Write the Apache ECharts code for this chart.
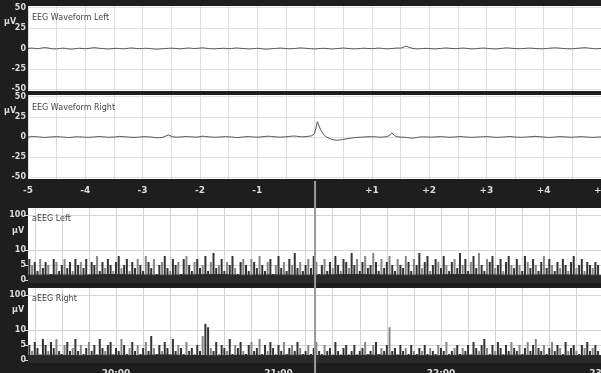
<!DOCTYPE html>
<html><head><meta charset="utf-8">
<script src="https://cdn.jsdelivr.net/npm/echarts@6/dist/echarts.min.js"></script>
<style>html,body{margin:0;padding:0;background:#1e1e1e}#c{width:601px;height:373px}</style>
</head><body><div id="c"></div>
<script>
// ---------- DATA ----------
// EEG raw waveform (µV), sampled every 0.05 s from -5 s to +5 s
const eegLeft = [
 0,0.5,0.3,-0.2,0,0.8,1,0.6,0,-0.5,-0.3,0,0.4,0.2,-0.4,-0.8,-0.5,0,0.3,0,
 -0.3,0,0.5,1,0.7,0.2,0,-0.4,-0.6,-0.3,0,0.2,0,-0.3,-0.2,0.3,0.6,0.4,0,-0.2,
 0,0.3,0.1,-0.3,-0.6,-0.8,-0.6,-0.2,0,0.2,0.4,0.2,0,-0.4,-0.2,0.3,0.6,0.3,0,0.2,
 0.5,0.8,0.4,0,-0.3,-0.5,-0.2,0,0.3,0.1,-0.2,0,0.4,0.6,0.3,0,-0.2,-0.6,-0.4,0,
 0.2,0,-0.5,-0.8,-0.6,-0.3,0,0.2,0.5,0.3,0,-0.3,-0.2,0,0.4,0.7,0.5,0.2,0,-0.3,
 -0.5,-0.3,0,0.3,0.1,-0.2,-0.6,-0.4,0,0.2,0.6,0.3,0,-0.3,-0.5,-0.2,0,0.4,0.2,0,
 -0.2,0,0.5,0.3,0,-0.4,-0.3,0,0.3,0.6,0.4,1.5,3,1.5,0.3,-0.3,-0.5,-0.2,0,0.2,
 0,-0.3,-0.5,-0.2,0,0.4,0.6,0.3,0,-0.2,0,0.3,0.5,0.2,-0.2,-0.5,-0.3,0,0.3,0.5,
 0.2,0,-0.3,-0.6,-0.3,0,0.4,0.8,0.5,0.2,0,-0.3,-0.2,0,0.3,0.5,0.3,0,-0.2,-0.4,
 -0.2,0,0.3,0.6,0.8,0.6,0.3,0,-0.2,-0.4,-0.3,0,0.3,0.6,1,0.8,0.4,0,-0.3,-0.2,
 0
];
const eegRight = [
 0,0.3,0.6,0.3,0,-0.3,-0.5,-0.2,0,0.3,0.5,0.2,0,-0.3,-0.6,-0.4,0,0.3,0.2,0,
 -0.3,-0.5,-0.2,0,0.4,0.6,0.3,0,-0.3,-0.2,0,0.3,0.8,0.5,0.2,0,-0.3,-0.5,-0.3,0,
 0.3,0.5,0.2,0,-0.5,-1,-0.8,-0.4,1,2.5,0.8,0,-0.2,0,0.3,0.6,0.4,0.2,0,-0.2,
 0.5,1,0.6,0.2,0,-0.3,-0.2,0,0.3,0.5,0.3,0,-0.4,-0.6,-0.4,0,0.3,0.5,0.3,0,
 -0.2,0,0.4,0.8,1,0.6,0.3,0,-0.2,0,0.3,0.6,1,1.2,0.8,0.4,0.2,0.5,1,1.5,
 4,19,10,4,0.5,-1.5,-2.8,-3.8,-4,-3.6,-3,-2.4,-1.8,-1.2,-0.8,-0.5,-0.3,0,0.2,0.3,
 0.4,0.3,0,-0.2,0,0.3,1.5,5,1.5,0.3,0,-0.3,-0.5,-1,-1.5,-1,-0.4,0,0.2,0,
 0,-0.2,0,0.3,0.5,0.3,0,-0.3,-0.2,0,0.4,0.6,0.3,0,-0.3,-0.5,-0.2,0,0.2,0.3,
 0.5,0.3,0,-0.3,-0.5,-0.2,0,0.3,0.6,0.4,0,-0.2,-0.4,-0.2,0,0.3,0.5,0.8,0.5,0.2,
 0,-0.3,-0.5,-0.3,0,0.3,0.5,0.3,0,-0.2,-0.3,0,0.2,0.4,0.2,0,-0.3,-0.5,-0.3,0,
 0
];
// aEEG upper margin per minute (µV), from 19:28 onward
const aeegLeftMax = [
 7,5,6,3,7,4,6,5,2,7,6,3,5,7,4,6,3,7,5,6,
 4,7,2,6,5,8,3,6,4,7,5,3,6,8,4,5,7,3,6,4,
 7,5,3,8,6,4,7,2,5,6,8,4,3,7,5,6,2,7,8,5,
 3,6,7,4,5,8,3,6,9,4,5,7,3,6,5,8,4,2,6,7,
 5,3,7,6,4,8,5,3,6,7,2,5,8,4,6,3,7,5,9,4,
 6,3,5,7,4,8,6,2,5,7,3,6,4,8,5,3,7,6,4,9,
 5,7,3,6,8,4,5,9,6,3,7,4,6,8,5,3,7,5,4,8,
 6,3,7,5,9,4,6,8,3,5,7,6,4,8,5,3,6,7,4,9,
 5,7,3,6,8,4,9,5,3,7,6,8,4,5,7,3,6,8,5,4,
 7,5,3,8,6,4,7,5,3,6,8,4,7,5,3,6,4,7,5,3,
 6,8,4,5,7,3,6,5,4,6,5
];
const aeegRightMax = [
 5,3,6,4,2,7,5,3,6,4,7,3,2,5,6,3,4,7,3,5,
 2,4,6,3,5,2,7,4,3,5,6,2,4,3,7,5,2,4,6,3,
 5,2,4,6,3,8,4,2,5,3,6,4,2,7,3,5,4,2,6,3,
 4,2,5,3,8,15,12,4,3,6,2,5,4,3,7,2,5,4,6,3,
 2,5,6,3,4,7,2,5,3,6,4,2,5,3,6,2,4,5,3,6,
 4,2,3,5,2,4,6,3,2,5,3,4,2,6,3,2,4,5,2,3,
 5,2,3,4,6,2,3,5,6,2,4,3,5,12,3,4,2,5,3,4,
 2,5,3,2,4,3,5,2,4,3,2,5,4,3,6,2,3,4,5,2,
 4,3,5,2,6,4,3,5,7,4,2,5,3,6,4,2,5,3,6,4,
 3,5,2,4,6,3,5,7,4,3,5,2,4,6,3,5,4,2,6,3,
 4,5,3,2,5,4,6,3,4,5,3
];
// aEEG lower margin, one value per 10 minutes
const aeegLeftLow  = [1.6,1.7,1.6,1.8,1.7,1.6,1.7,1.8,1.6,1.7,1.6,1.7,1.8,1.7,1.6,1.7,1.8,1.7,1.6,1.7,1.7,1.6,1.6];
const aeegRightLow = [1.5,1.6,1.4,1.6,1.5,1.7,1.5,1.4,1.6,1.5,1.6,1.4,1.5,1.6,1.5,1.4,1.6,1.5,1.6,1.5,1.4,1.5,1.5];
const eegTickLabels = ['-5','-4','-3','-2','-1','+1','+2','+3','+4','+5'];
const hourLabels = ['20:00','21:00','22:00','23:00'];
const aeegTickVals = [0,5,10,100];
const eegTickVals = [-50,-25,0,25,50];
const cursorTime = 1273.5; // 21:13.5 (minutes after midnight)

// ---------- BUILD ----------
const FONT = 'DejaVu Sans';
const T = v => v <= 10 ? v : 10 + 11.7 * Math.log10(v / 10); // semi-log aEEG scale
const t0 = 1167.5, t1 = 1380;
const eegTimes = eegLeft.map((_, i) => -5 + i * 0.05);
const barTimes = aeegLeftMax.map((_, i) => 1168 + i);
const lowTimes = aeegLeftLow.map((_, i) => Math.min(t1, t0 + i * 10));
const tenMin = []; for (let m = 1170; m <= 1380; m += 10) tenMin.push(m);
const hourVals = [1200, 1260, 1320, 1380];
const lab = { color: '#dcdcdc', fontSize: 8, fontFamily: FONT, fontWeight: 'bold' };

function eegX(idx, show) {
  return { type: 'value', gridIndex: idx, min: -5, max: 5, interval: 0.5,
    axisLine: { show: false },
    axisTick: { show: show, length: 3, lineStyle: { color: '#cfcfcf' } },
    axisLabel: { show: show, ...lab, fontSize: 9, margin: 7, showMinLabel: true, showMaxLabel: true, hideOverlap: false,
      formatter: v => { const r = Math.round(v); if (Math.abs(v - r) > 1e-6 || r === 0) return '';
        return eegTickLabels.find(s => Number(s) === r) || ''; } },
    splitLine: { show: true, lineStyle: { color: '#dddddd', width: 1 } } };
}
function eegY(idx) {
  return { type: 'value', gridIndex: idx, min: -52, max: 52,
    axisLine: { show: false },
    axisTick: { show: true, length: 3, customValues: eegTickVals, lineStyle: { color: '#dcdcdc' } },
    axisLabel: { ...lab, margin: 2, customValues: eegTickVals },
    splitLine: { show: true, lineStyle: { color: '#e0e0e0' } } };
}
function aX(idx, show) {
  return { type: 'value', gridIndex: idx, min: t0, max: t1,
    axisLine: { show: false },
    axisTick: { show: show, customValues: tenMin, length: 3, lineStyle: { color: '#cfcfcf' } },
    axisLabel: { show: show, ...lab, fontSize: 9, margin: 6, customValues: hourVals, hideOverlap: false,
      formatter: v => hourLabels[hourVals.indexOf(v)] || '' },
    splitLine: { show: true, lineStyle: { color: '#d2d2d2' } } };
}
function aY(idx) {
  const cv = aeegTickVals.map(T);
  return { type: 'value', gridIndex: idx, min: -1, max: 24,
    axisLine: { show: false },
    axisTick: { show: true, length: 3, customValues: cv, lineStyle: { color: '#dcdcdc' } },
    axisLabel: { ...lab, margin: 2, customValues: cv,
      formatter: v => String(aeegTickVals[cv.findIndex(c => Math.abs(c - v) < 1e-6)]) },
    splitLine: { show: true, lineStyle: { color: '#d6d6d6' } } };
}
const gridBase = { left: 28, show: true, backgroundColor: '#ffffff', borderWidth: 0, containLabel: false, outerBoundsMode: 'none' };
function barSeries(ai, arr) {
  return { type: 'bar', xAxisIndex: ai, yAxisIndex: ai, barWidth: 2, animation: false,
    data: arr.map((v, i) => [barTimes[i], T(v)]),
    itemStyle: { color: p => (p.dataIndex % 3 === 1 ? '#858585' : '#333333') } };
}
function lowSeries(ai, arr) {
  return { type: 'line', xAxisIndex: ai, yAxisIndex: ai, symbol: 'none', animation: false, z: 3,
    data: arr.map((v, i) => [lowTimes[i], T(v)]),
    lineStyle: { color: '#2a2a2a', width: 1 },
    areaStyle: { color: '#2a2a2a', origin: 'start', opacity: 1 } };
}
const chart = echarts.init(document.getElementById('c'), null, { renderer: 'canvas' });
chart.setOption({
  backgroundColor: '#1e1e1e',
  animation: false,
  grid: [
    { ...gridBase, right: 0, top: 6, height: 85 },
    { ...gridBase, right: 0, top: 95, height: 84 },
    { ...gridBase, right: -2.5, top: 208, height: 75 },
    { ...gridBase, right: -2.5, top: 288, height: 75 }
  ],
  xAxis: [eegX(0, false), eegX(1, true), aX(2, false), aX(3, true)],
  yAxis: [eegY(0), eegY(1), aY(2), aY(3)],
  series: [
    { type: 'line', xAxisIndex: 0, yAxisIndex: 0, symbol: 'none', data: eegTimes.map((t, i) => [t, eegLeft[i]]), lineStyle: { color: '#555', width: 1 } },
    { type: 'line', xAxisIndex: 1, yAxisIndex: 1, symbol: 'none', data: eegTimes.map((t, i) => [t, eegRight[i]]), lineStyle: { color: '#555', width: 1 } },
    barSeries(2, aeegLeftMax), lowSeries(2, aeegLeftLow),
    barSeries(3, aeegRightMax), lowSeries(3, aeegRightLow)
  ]
});
const cx = chart.convertToPixel({ xAxisIndex: 2 }, cursorTime);
const txt = (x, y, s, c, fs, w) => ({ type: 'text', x: x, y: y, z: 100, silent: true,
  style: { text: s, fill: c, font: (w || '') + ' ' + fs + 'px "' + FONT + '"', textBaseline: 'middle' } });
chart.setOption({ graphic: { elements: [
  txt(32, 14, 'EEG Waveform Left', '#444', 8),
  txt(32, 104, 'EEG Waveform Right', '#444', 8),
  txt(32, 215, 'aEEG Left', '#444', 8),
  txt(32, 295, 'aEEG Right', '#444', 8),
  txt(4, 18, 'µV', '#dcdcdc', 8, 'bold'),
  txt(4, 107, 'µV', '#dcdcdc', 8, 'bold'),
  txt(12, 227, 'µV', '#dcdcdc', 8, 'bold'),
  txt(12, 306, 'µV', '#dcdcdc', 8, 'bold'),
  { type: 'line', z: 100, silent: true, shape: { x1: cx, y1: 181, x2: cx, y2: 373 },
    style: { stroke: '#9a9a9a', lineWidth: 2 } }
] } });
</script></body></html>
